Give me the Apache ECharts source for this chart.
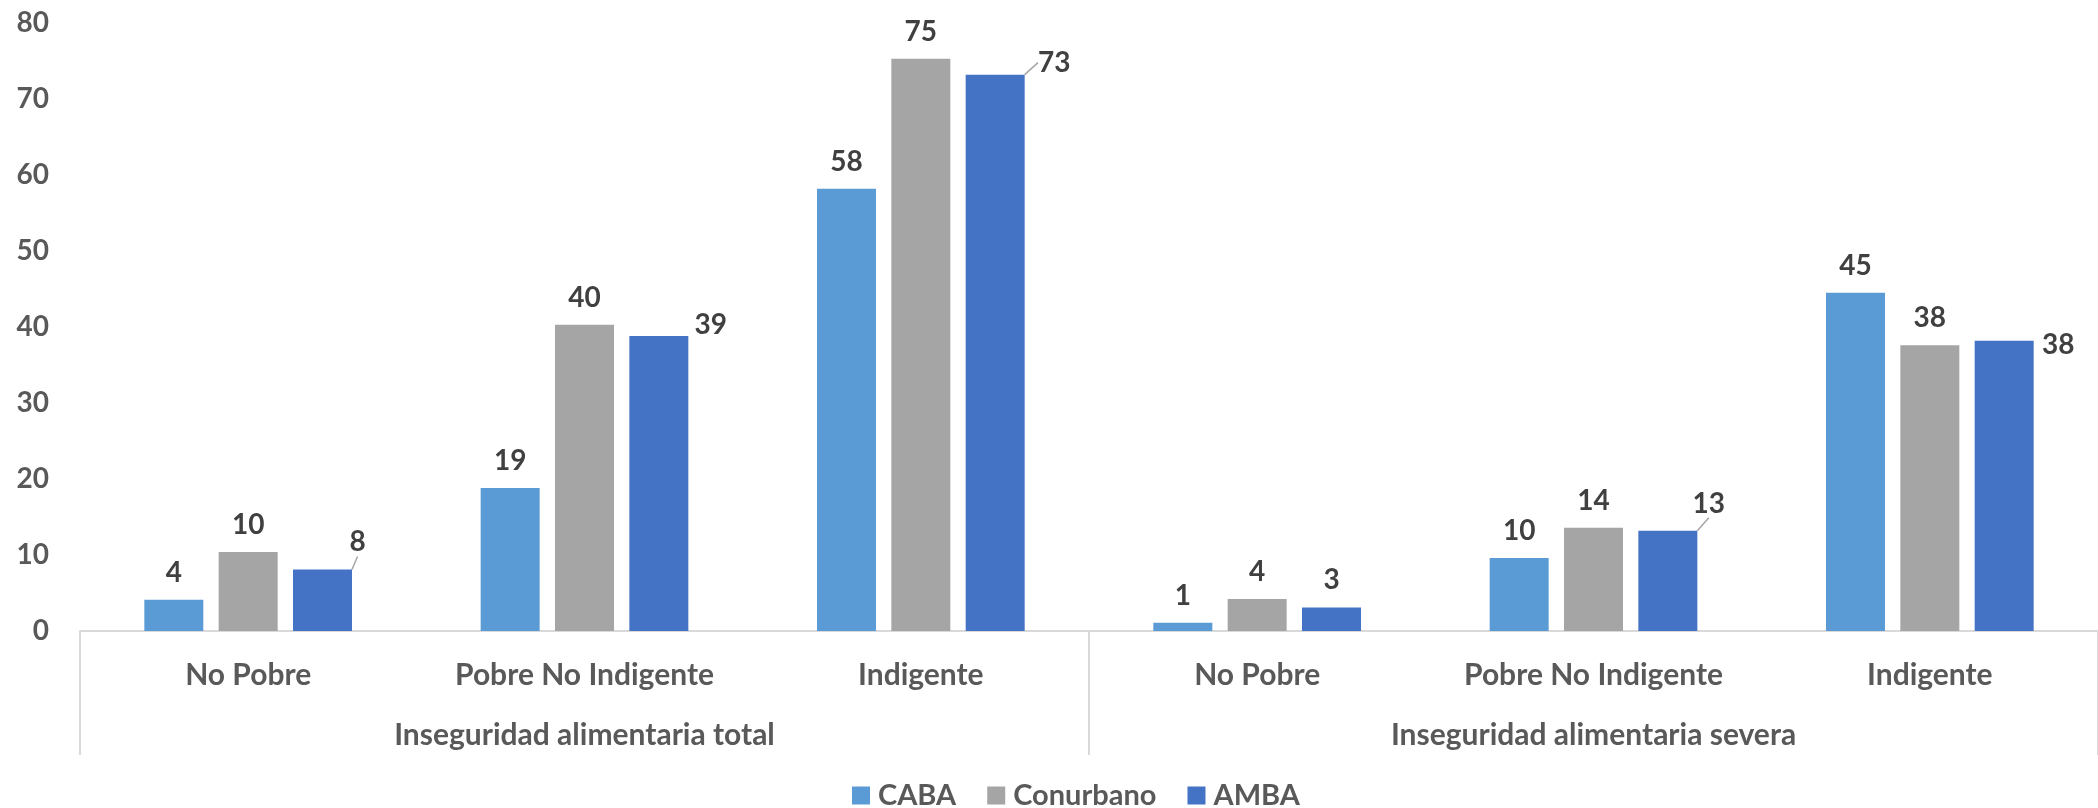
<!DOCTYPE html>
<html>
<head>
<meta charset="utf-8">
<script src="https://cdn.jsdelivr.net/npm/echarts@6/dist/echarts.min.js"></script>
<style>
html,body{margin:0;padding:0;background:#fff;}
#chart{width:2098px;height:808px;}
</style>
</head>
<body>
<div id="chart"></div>
<script>
// ---- data ----
const categories = ['No Pobre', 'Pobre No Indigente', 'Indigente', 'No Pobre', 'Pobre No Indigente', 'Indigente'];
const groups = ['Inseguridad alimentaria total', 'Inseguridad alimentaria severa'];
const seriesNames = ['CABA', 'Conurbano', 'AMBA'];
const caba = [4.1, 18.8, 58.2, 1.1, 9.6, 44.5];
const conurbano = [10.4, 40.3, 75.3, 4.2, 13.6, 37.6];
const amba = [8.1, 38.8, 73.2, 3.1, 13.2, 38.2];
const yTicks = [0, 10, 20, 30, 40, 50, 60, 70, 80];

// ---- styling ----
const FONT = 'Lato, "Open Sans", sans-serif';
const colors = ['#5B9BD5', '#A5A5A5', '#4472C4'];
// moved AMBA labels (index -> shift in px), and which get a leader line
const ambaLabelShift = {0: [35, 0], 1: [52, 16], 2: [59, 15], 4: [41, 0], 5: [54, 31]};
const ambaLeader = [0, 2, 4];

const chart = echarts.init(document.getElementById('chart'));

const labelBase = {
  show: true,
  position: 'top',
  distance: 13,
  color: '#404040',
  fontFamily: FONT,
  fontWeight: 'bold',
  fontSize: 28,
  formatter: p => Math.round(p.value)
};

function mkSeries(name, values, idx) {
  const s = {
    name: name,
    type: 'bar',
    xAxisIndex: 0,
    barWidth: 59,
    barGap: '26%',
    itemStyle: {color: colors[idx]},
    label: labelBase,
    data: values.map((v, i) => ({value: v}))
  };
  if (idx === 2) {
    s.data = values.map((v, i) => ({value: v, labelLine: {show: ambaLeader.includes(i)}}));
    s.labelLine = {show: false, lineStyle: {color: '#A6A6A6', width: 1.5}};
    s.labelLayout = function (p) {
      const sh = ambaLabelShift[p.dataIndex];
      if (!sh) return {};
      return {dx: sh[0], dy: sh[1]};
    };
  }
  return s;
}

const option = {
  backgroundColor: '#ffffff',
  animation: false,
  color: colors,
  grid: {left: 80, right: -6, top: 23, bottom: 177, containLabel: false},
  legend: {
    data: seriesNames,
    left: 847,
    top: 776,
    icon: 'rect',
    itemWidth: 18,
    itemHeight: 18,
    itemGap: 31,
    textStyle: {color: '#595959', fontFamily: FONT, fontWeight: 'bold', fontSize: 29, padding: [0, 0, 0, 3]}
  },
  xAxis: [
    {
      type: 'category',
      data: categories,
      position: 'bottom',
      axisLine: {show: true, lineStyle: {color: '#D9D9D9', width: 2}},
      axisTick: {show: false},
      axisLabel: {
        interval: 0, margin: 29, color: '#595959',
        fontFamily: FONT, fontWeight: 'bold', fontSize: 30
      },
      splitLine: {show: false}
    },
    {
      type: 'category',
      data: groups,
      position: 'bottom',
      gridIndex: 0,
      axisLine: {show: false},
      axisTick: {show: true, inside: false, length: 124, lineStyle: {color: '#D9D9D9', width: 2}},
      axisLabel: {
        interval: 0, margin: 89, color: '#595959',
        fontFamily: FONT, fontWeight: 'bold', fontSize: 30
      },
      splitLine: {show: false}
    }
  ],
  yAxis: {
    type: 'value',
    min: yTicks[0],
    max: yTicks[yTicks.length - 1],
    interval: 10,
    axisLine: {show: false},
    axisTick: {show: false},
    splitLine: {show: false},
    axisLabel: {
      margin: 31, color: '#595959',
      fontFamily: FONT, fontWeight: 'bold', fontSize: 28
    }
  },
  series: [
    mkSeries(seriesNames[0], caba, 0),
    mkSeries(seriesNames[1], conurbano, 1),
    mkSeries(seriesNames[2], amba, 2)
  ]
};
chart.setOption(option);
</script>
</body>
</html>
